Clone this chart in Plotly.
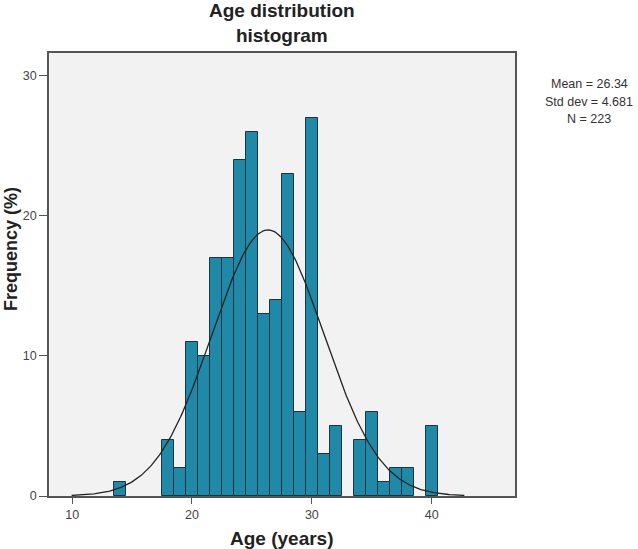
import numpy as np
import plotly.graph_objects as go

# ---- data ----
age_bins = [14, 18, 19, 20, 21, 22, 23, 24, 25, 26, 27, 28, 29, 30, 31, 32, 34, 35, 36, 37, 38, 40]
frequency = [1, 4, 2, 11, 10, 17, 17, 24, 26, 13, 14, 23, 6, 27, 3, 5, 4, 6, 1, 2, 2, 5]
mean_age = 26.34
sd_age = 4.681
n_total = 223
bin_width = 1.0
x_ticks = [10, 20, 30, 40]
y_ticks = [0, 10, 20, 30]
stat_lines = ["Mean = 26.34", "Std dev = 4.681", "N = 223"]

# normal curve from stated mean / sd, scaled to counts
xc = np.linspace(mean_age - 3.5 * sd_age, mean_age + 3.5 * sd_age, 300)
yc = n_total * bin_width / (sd_age * np.sqrt(2 * np.pi)) * np.exp(-0.5 * ((xc - mean_age) / sd_age) ** 2)

FONT = "Liberation Sans, Arial, sans-serif"

fig = go.Figure()
fig.add_trace(go.Bar(
    x=age_bins, y=frequency, width=bin_width,
    marker=dict(color="#2189a8", line=dict(color="#1b3540", width=1)),
    hoverinfo="x+y", showlegend=False,
))
fig.add_trace(go.Scatter(
    x=xc, y=yc, mode="lines",
    line=dict(color="#222222", width=1.3), showlegend=False,
))

W, H = 638, 549
plot_left, plot_right, plot_top, plot_bottom = 49, 515, 53, 496
L, T = plot_left, plot_top
R, B = W - plot_right, H - plot_bottom
pw, ph = plot_right - plot_left, plot_bottom - plot_top

def px_x(x):
    return (x - plot_left) / pw

def px_y(y):
    return (plot_bottom - y) / ph

fig.update_layout(
    width=W, height=H,
    margin=dict(l=L, r=R, t=T, b=B),
    paper_bgcolor="white",
    plot_bgcolor="#f2f2f2",
    bargap=0,
    font=dict(family=FONT, color="#333333"),
    xaxis=dict(
        range=[8.07, 46.95], tickvals=x_ticks, ticks="outside", ticklen=6,
        tickcolor="#555555", showline=True, mirror=True, linecolor="#555555",
        linewidth=1.5, showgrid=False, zeroline=False,
        tickfont=dict(size=12.5, color="#444444", family=FONT),
    ),
    yaxis=dict(
        range=[0, 31.64], tickvals=y_ticks, ticks="outside", ticklen=8,
        tickcolor="#555555", showline=True, mirror=True, linecolor="#555555",
        linewidth=1.5, showgrid=False, zeroline=False,
        tickfont=dict(size=12.5, color="#444444", family=FONT),
    ),
)

# chart title
fig.add_annotation(
    text="<b>Age distribution<br>histogram</b>", xref="paper", yref="paper",
    x=px_x(282), y=px_y(22.5), xanchor="center", yanchor="middle",
    showarrow=False, font=dict(size=19, color="#222222", family=FONT),
)
fig.add_annotation(
    text="<b>Age (years)</b>", xref="paper", yref="paper",
    x=px_x(282), y=px_y(538), xanchor="center", yanchor="middle",
    showarrow=False, font=dict(size=19, color="#222222", family=FONT),
)
fig.add_annotation(
    text="<b>Frequency (%)</b>", xref="paper", yref="paper",
    x=px_x(11), y=px_y(249), xanchor="center", yanchor="middle",
    textangle=-90, showarrow=False, font=dict(size=18, color="#222222", family=FONT),
)
for i, line in enumerate(stat_lines):
    fig.add_annotation(
        text=line, xref="paper", yref="paper",
        x=px_x(589), y=px_y(84 + 17.5 * i), xanchor="center", yanchor="middle",
        showarrow=False, font=dict(size=12.5, color="#333333", family=FONT),
    )

fig.write_html(
    "out.html",
    config={"displayModeBar": False},
    post_script="document.body.style.margin='0';document.body.style.padding='0';",
)
